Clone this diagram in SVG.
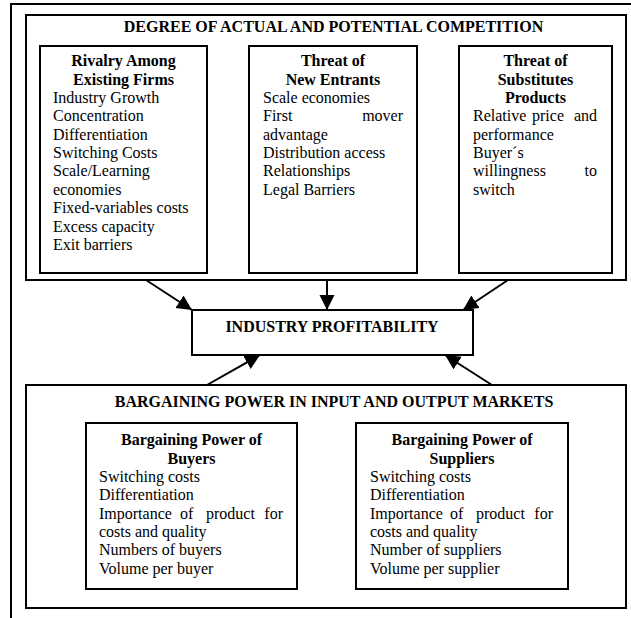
<svg xmlns="http://www.w3.org/2000/svg" width="631" height="618" viewBox="0 0 631 618">
<defs>
<style>
.box{fill:none;stroke:#000;stroke-width:2}
.t{font-family:"Liberation Serif","Times New Roman",serif;font-size:16px;fill:#000}
.b{font-weight:bold}
.c{text-anchor:middle}
.e{text-anchor:end}
.conn{stroke:#000;stroke-width:2;fill:none;marker-end:url(#ah)}
</style>
<marker id="ah" markerUnits="userSpaceOnUse" markerWidth="16" markerHeight="16" viewBox="0 0 16 16" refX="15" refY="7.5" orient="auto">
<path d="M0,0 L15,7.5 L0,15 z" fill="#000"/>
</marker>
</defs>
<rect width="631" height="618" fill="#fff"/>
<path d="M11,618 V4 H631" class="box"/>

<g id="competition">
<rect x="26" y="15" width="600" height="265" class="box"/>
<text class="t b c" x="333.5" y="31.5">DEGREE OF ACTUAL AND POTENTIAL COMPETITION</text>
</g>

<g id="rivalry">
<rect x="40" y="46" width="167" height="227" class="box"/>
<text class="t b c" x="123.5" y="66">Rivalry Among</text>
<text class="t b c" x="123.5" y="84.5">Existing Firms</text>
<text class="t" x="53" y="103">Industry Growth</text>
<text class="t" x="53" y="121.3">Concentration</text>
<text class="t" x="53" y="139.6">Differentiation</text>
<text class="t" x="53" y="158">Switching Costs</text>
<text class="t" x="53" y="176.4">Scale/Learning</text>
<text class="t" x="53" y="194.8">economies</text>
<text class="t" x="53" y="213.2">Fixed-variables costs</text>
<text class="t" x="53" y="231.6">Excess capacity</text>
<text class="t" x="53" y="250">Exit barriers</text>
</g>

<g id="new-entrants">
<rect x="249" y="46" width="168" height="227" class="box"/>
<text class="t b c" x="333" y="66">Threat of</text>
<text class="t b c" x="333" y="84.5">New Entrants</text>
<text class="t" x="263" y="103">Scale economies</text>
<text class="t" x="263" y="121.3">First</text>
<text class="t e" x="403" y="121.3">mover</text>
<text class="t" x="263" y="139.6">advantage</text>
<text class="t" x="263" y="158">Distribution access</text>
<text class="t" x="263" y="176.4">Relationships</text>
<text class="t" x="263" y="194.8">Legal Barriers</text>
</g>

<g id="substitutes">
<rect x="459" y="46" width="153" height="227" class="box"/>
<text class="t b c" x="535.5" y="66">Threat of</text>
<text class="t b c" x="535.5" y="84.5">Substitutes</text>
<text class="t b c" x="535.5" y="103">Products</text>
<text class="t" x="473" y="121.3">Relative</text>
<text class="t" x="532" y="121.3">price</text>
<text class="t e" x="597" y="121.3">and</text>
<text class="t" x="473" y="139.6">performance</text>
<text class="t" x="473" y="158">Buyer´s</text>
<text class="t" x="473" y="176.4">willingness</text>
<text class="t e" x="597" y="176.4">to</text>
<text class="t" x="473" y="194.8">switch</text>
</g>

<g id="profitability">
<rect x="192" y="310" width="281" height="45" class="box"/>
<text class="t b c" x="332" y="332">INDUSTRY PROFITABILITY</text>
</g>

<g id="bargaining">
<rect x="26" y="385" width="600" height="223" class="box"/>
<text class="t b c" x="334" y="406.5">BARGAINING POWER IN INPUT AND OUTPUT MARKETS</text>
</g>

<g id="buyers">
<rect x="86" y="423" width="211" height="166" class="box"/>
<text class="t b c" x="191.5" y="445">Bargaining Power of</text>
<text class="t b c" x="191.5" y="463.5">Buyers</text>
<text class="t" x="99" y="482">Switching costs</text>
<text class="t" x="99" y="500.3">Differentiation</text>
<text class="t" x="99" y="518.6">Importance</text>
<text class="t" x="180" y="518.6">of</text>
<text class="t" x="206" y="518.6">product</text>
<text class="t e" x="283" y="518.6">for</text>
<text class="t" x="99" y="537">costs and quality</text>
<text class="t" x="99" y="555.3">Numbers of buyers</text>
<text class="t" x="99" y="573.6">Volume per buyer</text>
</g>

<g id="suppliers">
<rect x="356" y="423" width="212" height="166" class="box"/>
<text class="t b c" x="462" y="445">Bargaining Power of</text>
<text class="t b c" x="462" y="463.5">Suppliers</text>
<text class="t" x="370" y="482">Switching costs</text>
<text class="t" x="370" y="500.3">Differentiation</text>
<text class="t" x="370" y="518.6">Importance</text>
<text class="t" x="450" y="518.6">of</text>
<text class="t" x="476" y="518.6">product</text>
<text class="t e" x="553" y="518.6">for</text>
<text class="t" x="370" y="537">costs and quality</text>
<text class="t" x="370" y="555.3">Number of suppliers</text>
<text class="t" x="370" y="573.6">Volume per supplier</text>
</g>

<g id="connectors">
<line x1="146" y1="280" x2="192" y2="310" class="conn"/>
<line x1="327" y1="280" x2="327" y2="310" class="conn"/>
<line x1="508" y1="280" x2="463" y2="310" class="conn"/>
<line x1="207" y1="385" x2="260" y2="355" class="conn"/>
<line x1="492" y1="385" x2="445" y2="355" class="conn"/>
</g>
</svg>
